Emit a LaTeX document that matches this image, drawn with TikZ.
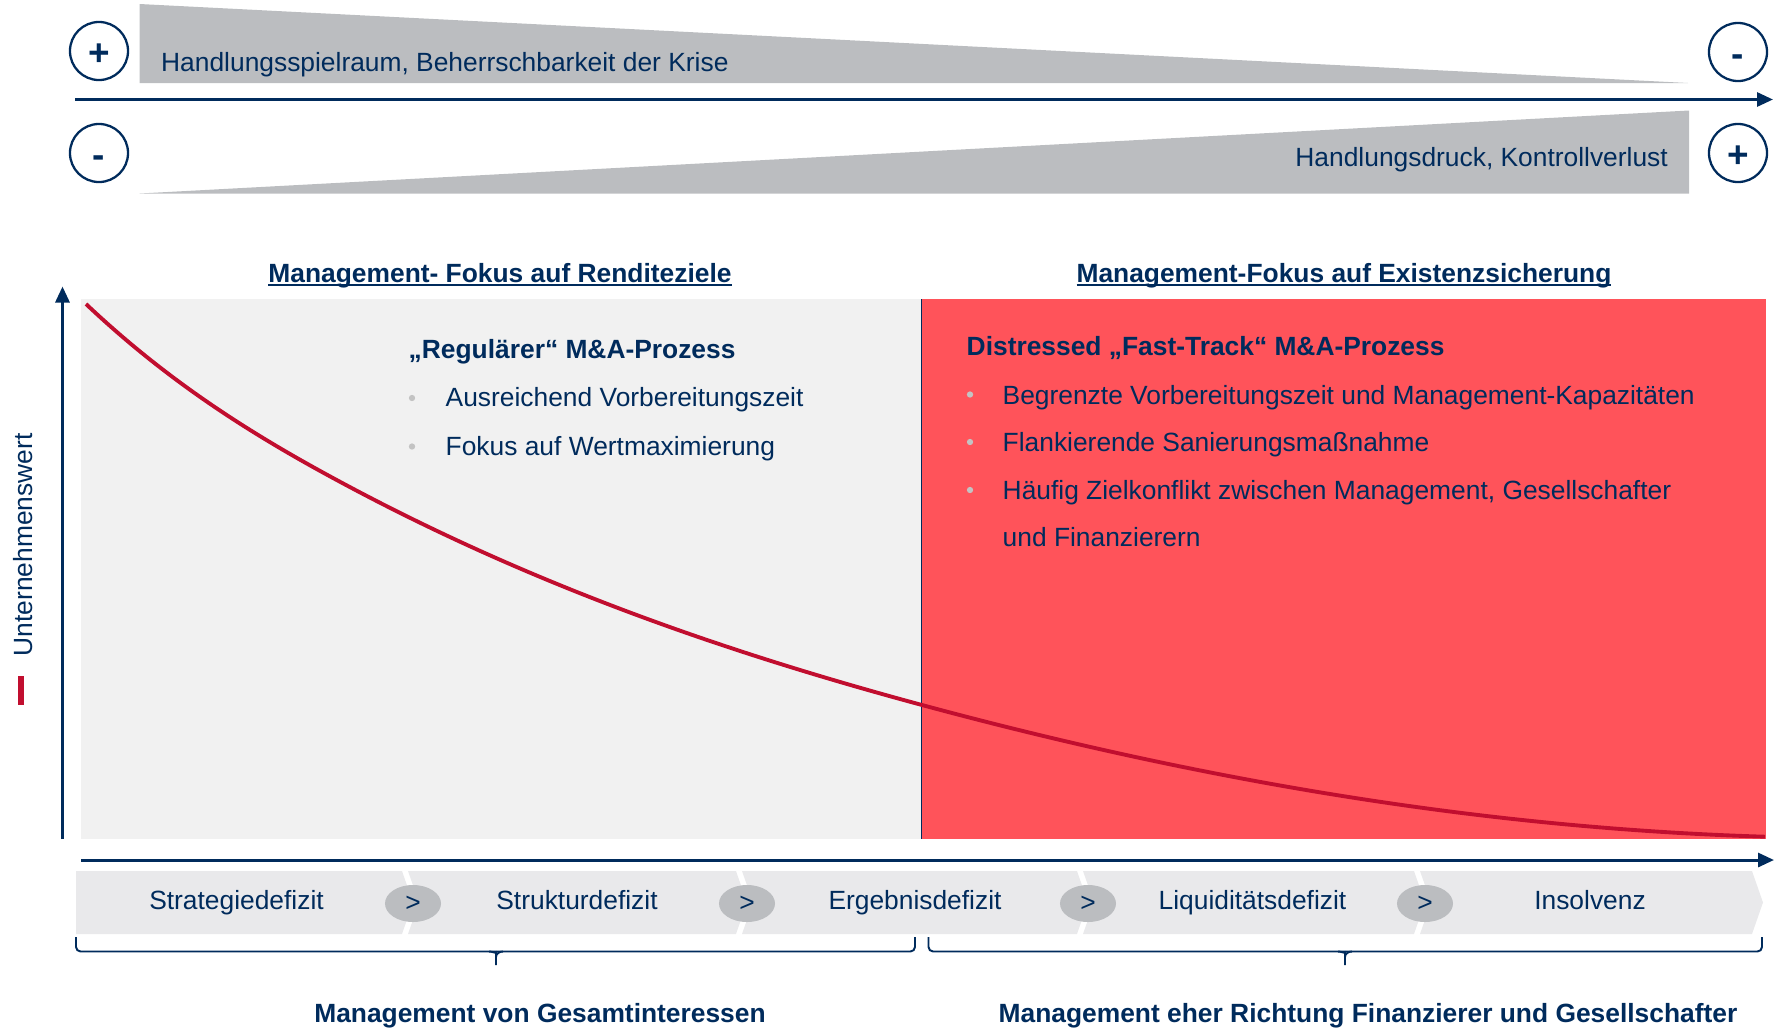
\documentclass[tikz,border=0pt]{standalone}
\usepackage{fontspec}
\setmainfont{Liberation Sans}
\usepackage{tikz}
\usetikzlibrary{arrows.meta, shapes.geometric}

\definecolor{navy}{HTML}{002B5C}
\definecolor{alarm}{HTML}{FF535A}
\definecolor{valuered}{HTML}{C10E2F}
\definecolor{wedge}{HTML}{BBBDC0}
\definecolor{panel}{HTML}{F1F1F1}
\definecolor{phase}{HTML}{E9E9EB}
\definecolor{dot}{HTML}{C3C3C3}

% underline that sits close to the baseline
\newcommand{\underlined}[1]{\setbox0\hbox{#1}\rlap{\rule[-0.37mm]{\wd0}{0.14mm}}\box0}

\begin{document}
\begin{tikzpicture}[x=0.01cm, y=-0.01cm,
    every node/.style = {inner sep=0pt, text=navy, font=\fontsize{7.5}{9}\selectfont},
    heading/.style = {font=\fontsize{7.5}{9}\selectfont\bfseries},
    signcircle/.style = {circle, draw=navy, line width=0.65pt, minimum size=5.8mm,
                         font=\fontsize{10.5}{12}\selectfont\bfseries, text height=8pt, text depth=0pt},
    joint/.style = {ellipse, fill=wedge, minimum width=5.6mm, minimum height=3.7mm},
    axisline/.style = {navy, line width=0.85pt, -{Triangle[length=1.6mm, width=1.4mm]}},
    bracket/.style = {navy, line width=0.55pt, rounded corners=1.3pt}]
    \useasboundingbox (0,0) rectangle (1775,1030);

    % wedges and time arrow on top
    \fill[wedge] (139.5,4) -- (1688,83) -- (139.5,83) -- cycle;
    \fill[wedge] (139.5,193.5) -- (1689,110.5) -- (1689,193.5) -- cycle;
    \coordinate (tstart) at (75,99.5);
    \coordinate (tend) at (1773,99.5);
    \draw[axisline] (tstart) -- (tend);

    \node[signcircle] (lplus) at (99,51) {+};
    \node[signcircle] (lminus) at (99,153) {-};
    \node[signcircle] (rminus) at (1738,52) {-};
    \node[signcircle] (rplus) at (1738,153) {+};
    \node[anchor=base west] (room) at (160.5,71) {Handlungsspielraum, Beherrschbarkeit der Krise};
    \node[anchor=base east] (pressure) at (1668.5,166.5) {Handlungsdruck, Kontrollverlust};

    % the two phases
    \fill[panel] (81,299) rectangle (921.5,839);
    \fill[alarm] (921.5,299) rectangle (1766,839);
    \draw[navy, line width=0.45pt] (921.5,299) -- (921.5,839);

    \node[heading, anchor=base] (calm) at (500,282) {\underlined{Management- Fokus auf Renditeziele}};
    \node[heading, anchor=base] (crisis) at (1344,282) {\underlined{Management-Fokus auf Existenzsicherung}};

    \node[heading, anchor=base west] (regular) at (408,358) {„Regulärer“ M\&A-Prozess};
    \fill[dot] (412,398) circle (0.9pt);
    \node[anchor=base west] (reg1) at (445,406.5) {Ausreichend Vorbereitungszeit};
    \fill[dot] (412,446.5) circle (0.9pt);
    \node[anchor=base west] (reg2) at (445,455) {Fokus auf Wertmaximierung};

    \node[heading, anchor=base west] (distressed) at (966,355) {Distressed „Fast-Track“ M\&A-Prozess};
    \fill[dot] (970,394.5) circle (0.9pt);
    \node[anchor=base west] (dis1) at (1002,404) {Begrenzte Vorbereitungszeit und Management-Kapazitäten};
    \fill[dot] (970,442) circle (0.9pt);
    \node[anchor=base west] (dis2) at (1002,451.7) {Flankierende Sanierungsmaßnahme};
    \fill[dot] (970,490) circle (0.9pt);
    \node[anchor=base west] (dis3) at (1002,499.3) {Häufig Zielkonflikt zwischen Management, Gesellschafter};
    \node[anchor=base west] (dis4) at (1002,546.7) {und Finanzierern};

    % company value over time
    \draw[valuered, line width=1.1pt] (86,304) .. controls (169.6,383) and (253.1,434.9) .. (336.7,480)
        .. controls (531.8,585.4) and (726.9,652.3) .. (922,705)
        .. controls (1203,780.9) and (1484,828.3) .. (1765,836.7);

    \coordinate (origin) at (62.5,839);
    \coordinate (ytop) at (62.5,286.5);
    \draw[axisline] (origin) -- (ytop);
    \coordinate (xstart) at (81,860);
    \coordinate (xend) at (1774,860);
    \draw[axisline] (xstart) -- (xend);

    \node[rotate=90, anchor=base west] (value) at (32,657) {Unternehmenswert};
    \draw[valuered, line width=1.7pt] (21,676) -- (21,705);

    % crisis stages
    \fill[phase] (76,871) -- (402,871) -- (413,902.5) -- (402,934) -- (76,934) -- cycle;
    \foreach \a/\b in {413/747, 747/1088, 1088/1425, 1425/1763}
        \fill[phase] (\a-5,871) -- (\b-11,871) -- (\b,902.5) -- (\b-11,934) -- (\a-5,934) -- (\a+6,902.5) -- cycle;

    \foreach \x [count=\i] in {413,747,1088,1425}
        \node[joint] (j\i) at (\x,903.5) {>};

    \foreach \x/\t [count=\i] in {236.5/Strategiedefizit, 577/Strukturdefizit, 915/Ergebnisdefizit,
                                   1252.5/Liquiditätsdefizit, 1590/Insolvenz}
        \node[anchor=base] (p\i) at (\x,909) {\t};

    % brackets below the stages
    \draw[bracket] (76,937) |- (915,951.5) -- (915,937);
    \draw[bracket] (489,951.5) to[out=0,in=90] (496,957) -- (496,965);
    \draw[bracket] (503,951.5) to[out=180,in=90] (496,957);
    \draw[bracket] (928.5,937) |- (1762,951.5) -- (1762,937);
    \draw[bracket] (1338,951.5) to[out=0,in=90] (1345,957) -- (1345,965);
    \draw[bracket] (1352,951.5) to[out=180,in=90] (1345,957);

    \node[heading, anchor=base] (whole) at (540,1022) {Management von Gesamtinteressen};
    \node[heading, anchor=base] (lenders) at (1368,1022) {Management eher Richtung Finanzierer und Gesellschafter};
\end{tikzpicture}
\end{document}
